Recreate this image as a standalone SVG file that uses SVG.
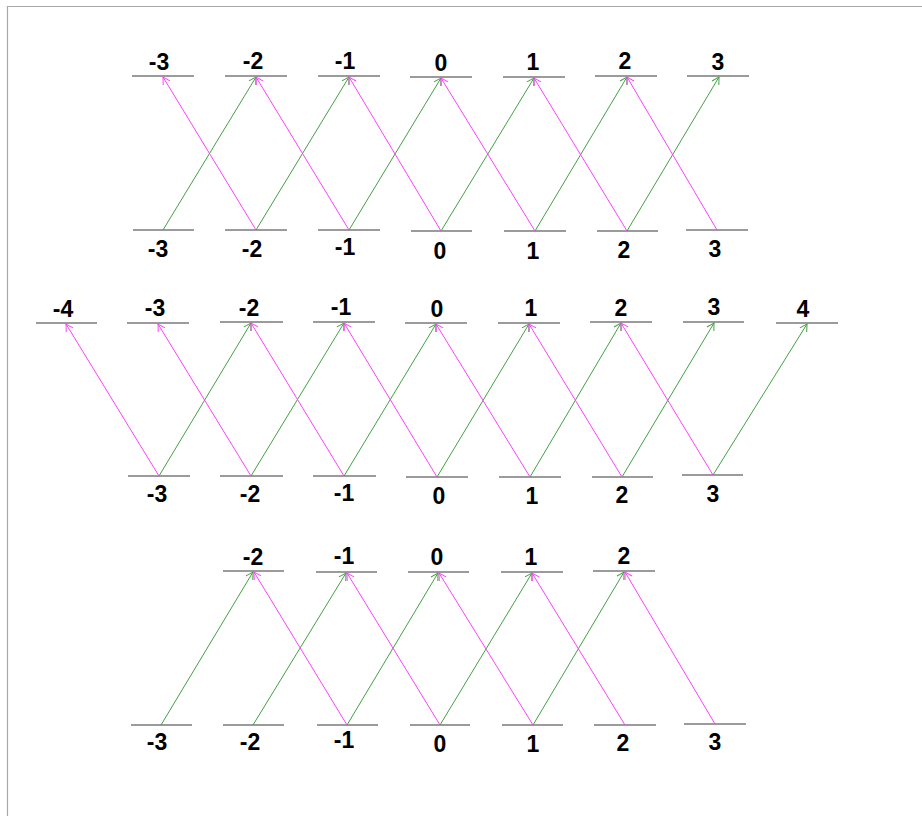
<svg xmlns="http://www.w3.org/2000/svg" width="922" height="816" viewBox="0 0 922 816">
<style>
.lv{stroke:#7a7a7a;stroke-width:1.5;fill:none}
.lb{font-family:"Liberation Sans",Arial,sans-serif;font-size:23px;font-weight:bold;fill:#000;text-anchor:middle}
.g{stroke:#44a044;stroke-width:1;fill:none;marker-end:url(#ag)}
.m{stroke:#ff40ff;stroke-width:1;fill:none;marker-end:url(#am)}
</style>
<defs>
<marker id="ag" markerUnits="userSpaceOnUse" markerWidth="12" markerHeight="12" viewBox="-1 -6 12 12" refX="8" refY="0" orient="auto"><path d="M1,-4 L8,0 L1,4" fill="none" stroke="#44a044" stroke-width="1"/></marker>
<marker id="am" markerUnits="userSpaceOnUse" markerWidth="12" markerHeight="12" viewBox="-1 -6 12 12" refX="8" refY="0" orient="auto"><path d="M1,-4 L8,0 L1,4" fill="none" stroke="#ff40ff" stroke-width="1"/></marker>
</defs>
<rect x="0" y="0" width="922" height="816" fill="#fff"/>
<path d="M7.5,830 V6.5 H930" fill="none" stroke="#a8a8a8" stroke-width="1.2"/>

<!-- Panel 1 top -->
<g id="p1t-m3"><line class="lv" x1="132" y1="76" x2="194" y2="76"/><text class="lb" x="159" y="70">-3</text></g>
<g id="p1t-m2"><line class="lv" x1="225" y1="76" x2="287" y2="76"/><text class="lb" x="253" y="69">-2</text></g>
<g id="p1t-m1"><line class="lv" x1="318" y1="76" x2="380" y2="76"/><text class="lb" x="345" y="69">-1</text></g>
<g id="p1t-0"><line class="lv" x1="410" y1="77" x2="472" y2="77"/><text class="lb" x="441" y="71">0</text></g>
<g id="p1t-1"><line class="lv" x1="503" y1="77" x2="565" y2="77"/><text class="lb" x="533" y="70">1</text></g>
<g id="p1t-2"><line class="lv" x1="595" y1="76" x2="657" y2="76"/><text class="lb" x="625" y="69">2</text></g>
<g id="p1t-3"><line class="lv" x1="687" y1="76" x2="749" y2="76"/><text class="lb" x="718" y="70">3</text></g>
<!-- Panel 1 bottom -->
<g id="p1b-m3"><line class="lv" x1="133" y1="230" x2="194" y2="230"/><text class="lb" x="158" y="257">-3</text></g>
<g id="p1b-m2"><line class="lv" x1="225" y1="230" x2="287" y2="230"/><text class="lb" x="252" y="257">-2</text></g>
<g id="p1b-m1"><line class="lv" x1="318" y1="230" x2="380" y2="230"/><text class="lb" x="345" y="255">-1</text></g>
<g id="p1b-0"><line class="lv" x1="411" y1="231" x2="472" y2="231"/><text class="lb" x="440" y="259">0</text></g>
<g id="p1b-1"><line class="lv" x1="504" y1="231" x2="566" y2="231"/><text class="lb" x="533" y="259">1</text></g>
<g id="p1b-2"><line class="lv" x1="597" y1="231" x2="658" y2="231"/><text class="lb" x="624" y="258">2</text></g>
<g id="p1b-3"><line class="lv" x1="686" y1="230" x2="748" y2="230"/><text class="lb" x="715" y="257">3</text></g>

<!-- Panel 2 top -->
<g id="p2t-m4"><line class="lv" x1="36" y1="323" x2="97" y2="323"/><text class="lb" x="63" y="317">-4</text></g>
<g id="p2t-m3"><line class="lv" x1="127" y1="323" x2="189" y2="323"/><text class="lb" x="155" y="316">-3</text></g>
<g id="p2t-m2"><line class="lv" x1="220" y1="322" x2="283" y2="322"/><text class="lb" x="249" y="316">-2</text></g>
<g id="p2t-m1"><line class="lv" x1="313" y1="322" x2="375" y2="322"/><text class="lb" x="341" y="315">-1</text></g>
<g id="p2t-0"><line class="lv" x1="405" y1="323" x2="467" y2="323"/><text class="lb" x="437" y="317">0</text></g>
<g id="p2t-1"><line class="lv" x1="498" y1="323" x2="560" y2="323"/><text class="lb" x="531" y="316">1</text></g>
<g id="p2t-2"><line class="lv" x1="590" y1="322" x2="652" y2="322"/><text class="lb" x="621" y="316">2</text></g>
<g id="p2t-3"><line class="lv" x1="683" y1="322" x2="744" y2="322"/><text class="lb" x="714" y="315">3</text></g>
<g id="p2t-4"><line class="lv" x1="776" y1="323" x2="838" y2="323"/><text class="lb" x="803" y="317">4</text></g>
<!-- Panel 2 bottom -->
<g id="p2b-m3"><line class="lv" x1="128" y1="476" x2="190" y2="476"/><text class="lb" x="157" y="502">-3</text></g>
<g id="p2b-m2"><line class="lv" x1="220" y1="476" x2="283" y2="476"/><text class="lb" x="250" y="502">-2</text></g>
<g id="p2b-m1"><line class="lv" x1="313" y1="476" x2="376" y2="476"/><text class="lb" x="344" y="501">-1</text></g>
<g id="p2b-0"><line class="lv" x1="406" y1="477" x2="468" y2="477"/><text class="lb" x="439" y="504">0</text></g>
<g id="p2b-1"><line class="lv" x1="499" y1="477" x2="561" y2="477"/><text class="lb" x="532" y="504">1</text></g>
<g id="p2b-2"><line class="lv" x1="592" y1="477" x2="653" y2="477"/><text class="lb" x="622" y="503">2</text></g>
<g id="p2b-3"><line class="lv" x1="682" y1="475" x2="743" y2="475"/><text class="lb" x="713" y="502">3</text></g>

<!-- Panel 3 top -->
<g id="p3t-m2"><line class="lv" x1="223" y1="571" x2="284" y2="571"/><text class="lb" x="253" y="565">-2</text></g>
<g id="p3t-m1"><line class="lv" x1="316" y1="572" x2="377" y2="572"/><text class="lb" x="344" y="564">-1</text></g>
<g id="p3t-0"><line class="lv" x1="408" y1="572" x2="469" y2="572"/><text class="lb" x="437" y="565">0</text></g>
<g id="p3t-1"><line class="lv" x1="501" y1="572" x2="563" y2="572"/><text class="lb" x="531" y="565">1</text></g>
<g id="p3t-2"><line class="lv" x1="593" y1="571" x2="655" y2="571"/><text class="lb" x="624" y="564">2</text></g>
<!-- Panel 3 bottom -->
<g id="p3b-m3"><line class="lv" x1="131" y1="725" x2="192" y2="725"/><text class="lb" x="157" y="750">-3</text></g>
<g id="p3b-m2"><line class="lv" x1="223" y1="725" x2="284" y2="725"/><text class="lb" x="250" y="750">-2</text></g>
<g id="p3b-m1"><line class="lv" x1="317" y1="725" x2="378" y2="725"/><text class="lb" x="344" y="748">-1</text></g>
<g id="p3b-0"><line class="lv" x1="410" y1="725" x2="470" y2="725"/><text class="lb" x="440" y="752">0</text></g>
<g id="p3b-1"><line class="lv" x1="502" y1="725" x2="563" y2="725"/><text class="lb" x="533" y="752">1</text></g>
<g id="p3b-2"><line class="lv" x1="594" y1="725" x2="656" y2="725"/><text class="lb" x="623" y="751">2</text></g>
<g id="p3b-3"><line class="lv" x1="684" y1="724" x2="746" y2="724"/><text class="lb" x="715" y="750">3</text></g>

<g id="connectors">
<!-- Panel 1 green -->
<line class="g" x1="163" y1="230" x2="256" y2="77"/>
<line class="g" x1="256" y1="230" x2="349" y2="77"/>
<line class="g" x1="349" y1="230" x2="441" y2="78"/>
<line class="g" x1="441" y1="231" x2="534" y2="78"/>
<line class="g" x1="535" y1="231" x2="627" y2="77"/>
<line class="g" x1="627" y1="231" x2="719" y2="77"/>
<!-- Panel 1 magenta -->
<line class="m" x1="256" y1="230" x2="163" y2="77"/>
<line class="m" x1="349" y1="230" x2="256" y2="77"/>
<line class="m" x1="441" y1="231" x2="349" y2="77"/>
<line class="m" x1="535" y1="231" x2="441" y2="78"/>
<line class="m" x1="627" y1="231" x2="534" y2="78"/>
<line class="m" x1="717" y1="230" x2="627" y2="77"/>
<!-- Panel 2 green -->
<line class="g" x1="159" y1="476" x2="251" y2="323"/>
<line class="g" x1="251" y1="476" x2="344" y2="323"/>
<line class="g" x1="344" y1="476" x2="436" y2="324"/>
<line class="g" x1="437" y1="477" x2="529" y2="324"/>
<line class="g" x1="530" y1="477" x2="621" y2="323"/>
<line class="g" x1="622" y1="477" x2="714" y2="323"/>
<line class="g" x1="713" y1="475" x2="807" y2="324"/>
<!-- Panel 2 magenta -->
<line class="m" x1="159" y1="476" x2="66" y2="324"/>
<line class="m" x1="251" y1="476" x2="158" y2="324"/>
<line class="m" x1="344" y1="476" x2="251" y2="323"/>
<line class="m" x1="437" y1="477" x2="344" y2="323"/>
<line class="m" x1="530" y1="477" x2="436" y2="324"/>
<line class="m" x1="622" y1="477" x2="529" y2="324"/>
<line class="m" x1="713" y1="475" x2="621" y2="323"/>
<!-- Panel 3 green -->
<line class="g" x1="161" y1="725" x2="253" y2="572"/>
<line class="g" x1="253" y1="725" x2="346" y2="573"/>
<line class="g" x1="347" y1="725" x2="438" y2="573"/>
<line class="g" x1="440" y1="725" x2="532" y2="573"/>
<line class="g" x1="533" y1="725" x2="624" y2="572"/>
<!-- Panel 3 magenta -->
<line class="m" x1="347" y1="725" x2="254" y2="572"/>
<line class="m" x1="440" y1="725" x2="347" y2="573"/>
<line class="m" x1="533" y1="725" x2="439" y2="573"/>
<line class="m" x1="625" y1="725" x2="532" y2="573"/>
<line class="m" x1="715" y1="724" x2="625" y2="572"/>
</g>
</svg>
